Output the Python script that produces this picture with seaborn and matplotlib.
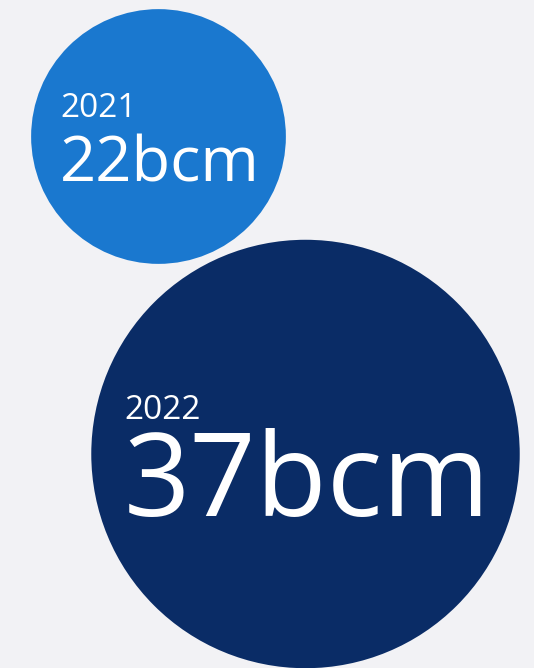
import matplotlib.pyplot as plt
import pandas as pd
import seaborn as sns

# data
years = ["2021", "2022"]
volumes = [22, 37]          # bcm
unit = "bcm"

# layout (pixels, figure is 534x668 at dpi 100)
centers_x = [158.5, 305.5]
centers_y = [136.5, 454.0]
px_per_bcm = 5.79
label_x = [60, 124]
year_y = [117, 419]
value_y = [182, 516]
value_fs = [45.5, 83.5]
year_fs = 24
colors = ["#1a78cf", "#0a2c66"]
bg = "#f2f2f5"

df = pd.DataFrame({"year": years, "volume": volumes, "x": centers_x, "y": centers_y})

sns.set_theme(style="white")
plt.rcParams["font.family"] = ["Open Sans", "DejaVu Sans"]

fig = plt.figure(figsize=(5.34, 6.68), dpi=100, facecolor=bg)
ax = fig.add_axes([0, 0, 1, 1])
ax.set_facecolor(bg)

# marker diameter in points = 2 * radius(px) * 72 / dpi
sizes = {v: (2 * v * px_per_bcm * 0.72) ** 2 for v in volumes}
sns.scatterplot(data=df, x="x", y="y", hue="year", size="volume",
                sizes=sizes, palette=colors, linewidth=0, legend=False, ax=ax)

for i in range(len(years)):
    ax.text(label_x[i], year_y[i], years[i], color="white", fontsize=year_fs,
            ha="left", va="baseline")
    ax.text(label_x[i], value_y[i], f"{volumes[i]}{unit}", color="white",
            fontsize=value_fs[i], ha="left", va="baseline")

ax.set_xlim(0, 534)
ax.set_ylim(668, 0)
ax.set_axis_off()

plt.savefig("out.png", dpi=100, facecolor=bg)
